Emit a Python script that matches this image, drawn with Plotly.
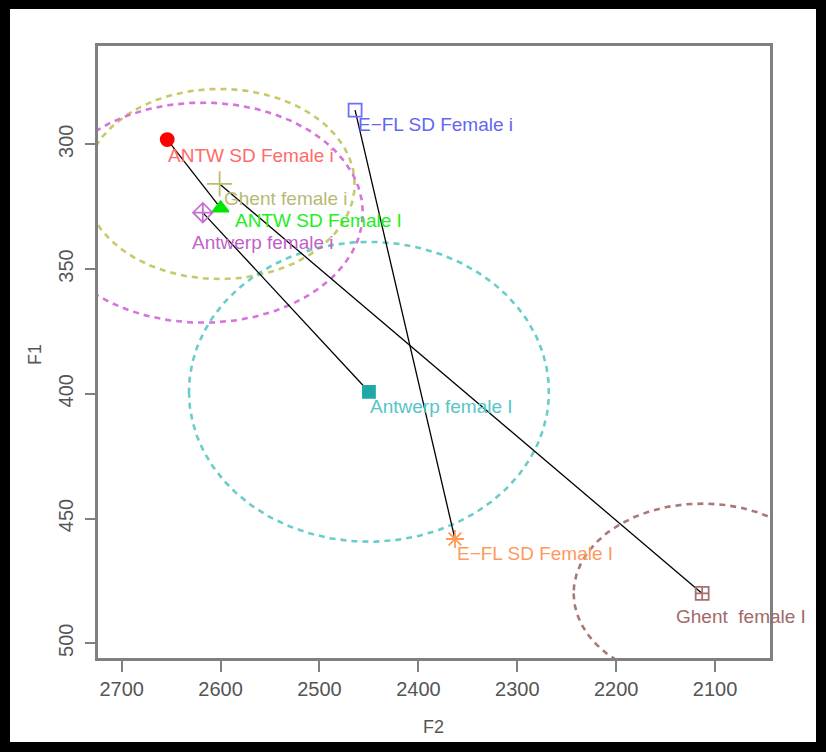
import numpy as np
import plotly.graph_objects as go

# ---------------- data ----------------
labels = ["ANTW SD Female i", "E\u2212FL SD Female i", "Ghent female i", "ANTW SD Female I",
          "Antwerp female i", "Antwerp female I", "E\u2212FL SD Female I", "Ghent  female I"]
f2 = [2654, 2464, 2601, 2600, 2618, 2450, 2363, 2113]
f1 = [298.1, 286.3, 315.9, 325.6, 327.4, 399.2, 458.2, 480.0]

# segments joining the two realisations of each speaker group (index pairs)
seg_from = [0, 1, 2, 4]
seg_to = [3, 6, 7, 5]

# ellipses: centre index, F2 radius, F1 radius
ell_center = [2, 4, 5, 7]
ell_rx = [136.5, 161.8, 182.0, 130.0]
ell_ry = [38.1, 44.1, 60.1, 36.0]

x_ticks = [2700, 2600, 2500, 2400, 2300, 2200, 2100]
y_ticks = [300, 350, 400, 450, 500]

# ---------------- styles ----------------
marker_sym = ["circle", "square-open", "cross-thin-open", "triangle-up", "diamond-cross-open",
              "square", "asterisk-open", "square-cross-open"]
marker_col = ["#FF0000", "#6F6FFF", "#BDBD6E", "#00E600", "#C56FD0", "#1FA8A8", "#FF9A55", "#A77070"]
marker_size = [13, 13, 18, 14, 15, 12, 15, 13]
label_col = ["#FF6A6A", "#6565F0", "#B9B975", "#22EE22", "#BF63C8", "#55C6C6", "#FF9A5C", "#9E6A6A"]
label_dx = [-1, 1, 2, 12, -13, -1, 0, -28]
label_dy = [15.5, 14.5, 14.5, 12, 30, 15, 14.5, 23.5]
ell_col = ["#C9C96C", "#D673DC", "#6CCCCC", "#AA7878"]

FONT = "Liberation Sans, Arial, Helvetica, sans-serif"

fig = go.Figure()

# ellipses
t = np.linspace(0, 2 * np.pi, 361)
for c, rx, ry, col in zip(ell_center, ell_rx, ell_ry, ell_col):
    fig.add_trace(go.Scatter(x=f2[c] + rx * np.cos(t), y=f1[c] + ry * np.sin(t), mode="lines",
                             line=dict(color=col, width=2.6, dash="6px,5px"),
                             hoverinfo="skip", showlegend=False))

# connecting segments
for a, b in zip(seg_from, seg_to):
    fig.add_trace(go.Scatter(x=[f2[a], f2[b]], y=[f1[a], f1[b]], mode="lines",
                             line=dict(color="black", width=1.3), showlegend=False, hoverinfo="skip"))

# markers
for i in range(len(labels)):
    fig.add_trace(go.Scatter(x=[f2[i]], y=[f1[i]], mode="markers",
                             marker=dict(symbol=marker_sym[i], size=marker_size[i], color=marker_col[i],
                                         line=dict(color=marker_col[i], width=1.8)),
                             showlegend=False, cliponaxis=False))

annotations = []
for i in range(len(labels)):
    annotations.append(dict(x=f2[i], y=f1[i], xref="x", yref="y", text=labels[i], showarrow=False,
                            xanchor="left", yanchor="middle", xshift=label_dx[i], yshift=-label_dy[i],
                            font=dict(family=FONT, size=19, color=label_col[i])))

# axis titles
annotations.append(dict(x=(433 - 98) / 672, y=(658 - 727) / 612, xref="paper", yref="paper", text="F2",
                        showarrow=False, xanchor="center", yanchor="middle",
                        font=dict(family=FONT, size=18, color="#555555")))
annotations.append(dict(x=(35 - 98) / 672, y=(658 - 355) / 612, xref="paper", yref="paper", text="F1",
                        showarrow=False, xanchor="center", yanchor="middle", textangle=-90,
                        font=dict(family=FONT, size=18, color="#555555")))

def px_x(p):
    return (p - 98) / 672

def px_y(p):
    return (658 - p) / 612

shapes = [dict(type="rect", xref="paper", yref="paper", x0=px_x(5), x1=px_x(821), y0=px_y(4), y1=px_y(747),
               line=dict(color="black", width=10), fillcolor="rgba(0,0,0,0)", layer="above")]

fig.update_layout(
    width=826, height=752,
    margin=dict(l=98, r=56, t=46, b=94),
    paper_bgcolor="white", plot_bgcolor="white",
    showlegend=False,
    annotations=annotations,
    shapes=shapes,
    xaxis=dict(range=[2724, 2044.4], tickvals=x_ticks, ticks="outside", ticklen=11, tickwidth=2,
               tickcolor="#808080", showline=True, linecolor="#808080", linewidth=2.5, mirror=True,
               showgrid=False, zeroline=False,
               tickfont=dict(family=FONT, size=20, color="#555555")),
    yaxis=dict(range=[505.9, 260.6], tickvals=y_ticks, ticks="outside", ticklen=10, tickwidth=2,
               tickcolor="#808080", showline=True, linecolor="#808080", linewidth=2.5, mirror=True,
               showgrid=False, zeroline=False, tickangle=-90, ticklabelstandoff=4,
               tickfont=dict(family=FONT, size=20, color="#555555")),
)

fig.write_html("out.html")
